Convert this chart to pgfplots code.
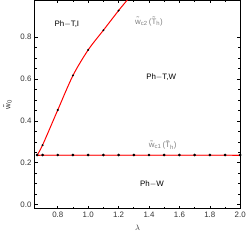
\documentclass[border=0pt]{standalone}
\usepackage{pgfplots}
\pgfplotsset{compat=1.18}
\usepackage{fontspec}
\setmainfont{Liberation Sans}
\begin{document}
\begin{tikzpicture}
\begin{axis}[
  scale only axis, width=208pt, height=211pt,
  xmin=0.65, xmax=2.0, ymin=-0.02, ymax=0.975,
  xtick={0.8,1.0,...,2.0}, ytick={0,0.2,0.4,0.6,0.8},
  xticklabels={0.8,1.0,1.2,1.4,1.6,1.8,2.0},
  yticklabels={0.0,0.2,0.4,0.6,0.8},
  minor x tick num=1, minor y tick num=3,
  tick align=inside, major tick length=3pt, minor tick length=1.8pt,
  axis line style={line width=1.1pt},
  every tick/.style={black, line width=0.6pt},
  tick label style={font=\fontsize{8}{9}\selectfont, text=black!80},
  /pgf/number format/assume math mode=true,
  xlabel={$\lambda$}, ylabel={\~{w}\textsubscript{0}},
  label style={font=\fontsize{8}{9}\selectfont, text=black!80},
  xlabel style={yshift=0pt},
  ylabel style={yshift=2pt},
  clip=true,
]
\addplot[red!25, line width=3pt, forget plot] coordinates {(0.665,0.237) (2.0,0.237)};
\addplot[red, line width=1pt, mark=*, mark size=0.8pt, mark options={black}] coordinates {
(0.665,0.237) (0.7,0.237) (0.8,0.237) (0.9,0.237) (1.0,0.237) (1.1,0.237) (1.2,0.237) (1.3,0.237) (1.4,0.237) (1.5,0.237) (1.6,0.237) (1.7,0.237) (1.8,0.237) (1.9,0.237) (2.0,0.237)};
\addplot[red, line width=1pt, smooth] coordinates {
(0.665,0.237) (0.7,0.284) (0.8,0.452) (0.9,0.617) (1.0,0.739) (1.1,0.833) (1.2,0.927) (1.26,0.98)};
\addplot[only marks, mark=*, mark size=0.8pt, black] coordinates {
(0.7,0.284) (0.8,0.452) (0.9,0.617) (1.0,0.739) (1.1,0.833) (1.2,0.927)};
\node[font=\fontsize{8}{9}\selectfont] at (axis cs:0.86,0.86) {Ph$-$T,$\mathrm{I}$};
\node[font=\fontsize{8}{9}\selectfont] at (axis cs:1.48,0.61) {Ph$-$T,W};
\node[font=\fontsize{8}{9}\selectfont] at (axis cs:1.42,0.10) {Ph$-$W};
\node[font=\fontsize{8}{9}\selectfont, text=black!50] at (axis cs:1.40,0.875) {\~{w}\textsubscript{c2}\,(\~{T}\textsubscript{h})};
\node[font=\fontsize{8}{9}\selectfont, text=black!50] at (axis cs:1.49,0.285) {\~{w}\textsubscript{c1}\,(\~{T}\textsubscript{h})};
\end{axis}
\end{tikzpicture}
\end{document}
